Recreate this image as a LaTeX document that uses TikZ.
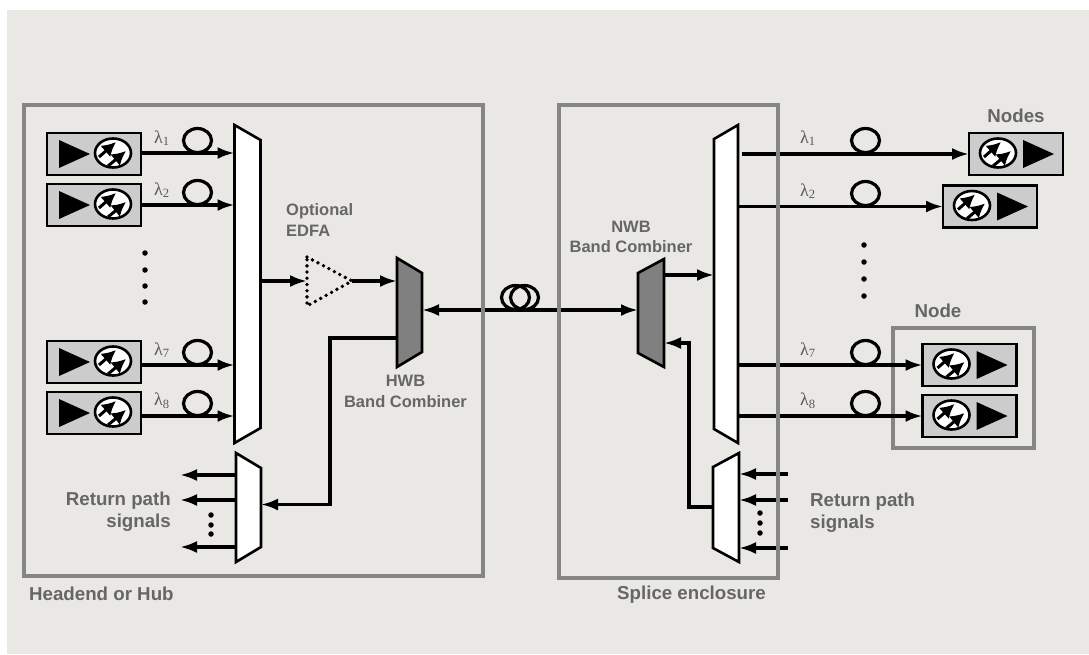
\documentclass[tikz,border=0pt]{standalone}
\usepackage{fontspec}
\setmainfont{Liberation Sans}
\newfontfamily\lamfont{Liberation Serif}
\usepackage{xcolor}
\usetikzlibrary{arrows.meta}
\usetikzlibrary{positioning, calc}
\definecolor{panelcol}{HTML}{E9E8E4}
\definecolor{framecol}{HTML}{858585}
\definecolor{boxcol}{HTML}{CCCCCC}
\definecolor{combcol}{HTML}{808080}
\definecolor{labelcol}{HTML}{666666}
\tikzset{
  x=1pt, y=-1pt,
  frame/.style={draw=framecol, line width=3.2pt, inner sep=0pt, outer sep=0pt},
  unitbox/.style={draw=black, fill=boxcol, line width=2.6pt, minimum width=94pt, minimum height=42pt, inner sep=0pt, outer sep=0pt},
  mux/.style={inner sep=0pt, outer sep=0pt},
  muxline/.style={draw=black, line width=2.6pt, line join=miter},
  fiberloop/.style={draw=black, line width=3.2pt, inner sep=0pt, outer sep=0pt},
  sig/.style={line width=3.2pt, -{Latex[length=17pt,width=12pt]}},
  smalldot/.style={circle, fill=black, minimum width=5.5pt, inner sep=0pt},
  lbl/.style={text=labelcol, font=\fontsize{16.5}{20.5}\selectfont\bfseries, inner sep=0pt},
  biglbl/.style={text=labelcol, font=\fontsize{18.7}{22}\selectfont\bfseries, inner sep=0pt},
  lam/.style={text=black!65, font=\fontsize{18}{20}\selectfont\lamfont, inner sep=0pt},
}
% icon inside a box
\newcommand{\photo}[2]{
  \begin{scope}[shift={($(#1)+(#2,-1)$)}]
    \draw[fill=white, line width=2.6pt] (0,0) ellipse (18pt and 14.5pt);
    \draw[line width=3pt, -{Latex[length=14pt,width=15pt]}] (-14,4) -- (3,-11);
    \draw[line width=3pt, -{Latex[length=14pt,width=15pt]}] (-5,13) -- (13,-2);
  \end{scope}
}
\newcommand{\amptri}[3]{
  \fill ($(#1)+(#2,-14)$) -- ($(#1)+(#3,0)$) -- ($(#1)+(#2,14)$) -- cycle;
}
% a fibre loop sitting on a line
\newcommand{\fibre}[2]{
  \draw[fiberloop] (#1,#2) ellipse (14pt and 12pt);
}
% slanted outlines on top of the mux nodes
\newcommand{\longleft}[2]{
  \draw[muxline, fill=#2] (#1.north west) -- ($(#1.north east)+(0,15)$) -- ($(#1.south east)+(0,-15)$) -- (#1.south west) -- cycle;
}
\newcommand{\longright}[2]{
  \draw[muxline, fill=#2] (#1.north east) -- ($(#1.north west)+(0,14)$) -- ($(#1.south west)+(0,-14)$) -- (#1.south east) -- cycle;
}
\begin{document}
\begin{tikzpicture}
    \useasboundingbox (0,0) rectangle (1089,654);
    \fill[panelcol] (7,10) rectangle (1089,654);

    % transmitters
    \node[unitbox] (tx1) at (94,154) {};
    \node[unitbox, below=9pt of tx1] (tx2) {};
    \node[unitbox] (tx7) at (94,362) {};
    \node[unitbox, below=9pt of tx7] (tx8) {};
    \foreach \i in {1,2,7,8} {
        \amptri{tx\i}{-35}{-4}
        \photo{tx\i}{19}
    }

    % node box and receivers
    \node[frame, minimum width=141pt, minimum height=120pt] (nodebox) at (963.5,388) {};
    \node[unitbox] (rx1) at (1016,154) {};
    \node[unitbox] (rx2) at (990,206.5) {};
    \node[unitbox] (rx7) at (969.5,365) {};
    \node[unitbox, below=9pt of rx7] (rx8) {};
    \foreach \i in {1,2,7,8} {
        \photo{rx\i}{-18}
        \amptri{rx\i}{7}{38}
    }

    % multiplexers
    \node[mux, minimum width=26pt, minimum height=318pt] (muxa) at (247.5,284) {};
    \node[mux, minimum width=25pt, minimum height=109pt] (demuxa) at (248.5,507.5) {};
    \node[mux, minimum width=24pt, minimum height=318pt] (muxb) at (726,284) {};
    \node[mux, minimum width=26pt, minimum height=109pt] (muxc) at (726,507.5) {};
    \node[mux, minimum width=25pt, minimum height=109pt] (hwb) at (409.5,312.5) {};
    \node[mux, minimum width=26pt, minimum height=108pt] (nwb) at (651,313) {};
    \longleft{muxa}{white}
    \longleft{demuxa}{white}
    \longright{muxb}{white}
    \longright{muxc}{white}
    \longleft{hwb}{combcol}
    \longright{nwb}{combcol}

    % left side
    \foreach \i/\y in {1/153,2/205,7/365,8/416} {
        \fibre{197.5}{\y-12.5}
        \node[lam] (lamA\i) at (162,\y-15) {λ\textsubscript{\i}};
        \coordinate (ta\i) at (142,\y);
        \draw[sig] (ta\i) -- (ta\i -| muxa.west);
    }
    \node[smalldot] (da1) at (145,253) {};
    \node[smalldot] (da2) at (145,270) {};
    \node[smalldot] (da3) at (145,286) {};
    \node[smalldot] (da4) at (145,302) {};

    % optional amplifier
    \coordinate (ea) at (307,257);
    \coordinate (eb) at (352,281);
    \coordinate (ec) at (307,306);
    \draw[line width=3.8pt, line cap=round, dash pattern=on 0pt off 6.2pt] (ea) -- (eb) -- (ec) -- cycle;
    \draw[sig] (muxa.east |- eb) -- (ec |- eb);
    \draw[sig] (eb) -- (eb -| hwb.west);

    % trunk
    \coordinate (trunk) at (530,310);
    \draw[line width=3.2pt, {Latex[length=17pt,width=12pt]}-{Latex[length=17pt,width=12pt]}] (hwb.east |- trunk) -- (nwb.west |- trunk);
    \fibre{515.5}{297.5}
    \fibre{524.5}{297.5}

    % return path, left
    \coordinate (reta) at (330,338);
    \coordinate (retb) at (330,504.5);
    \draw[sig] (hwb.west |- reta) -- (reta) -- (retb) -- (retb -| demuxa.east);
    \foreach \i/\y in {1/475,2/500,3/547} {
        \coordinate (ra\i) at (180,\y);
        \draw[sig] (ra\i -| demuxa.west) -- (ra\i);
    }
    \node[smalldot] (db1) at (211,515) {};
    \node[smalldot] (db2) at (211,525) {};
    \node[smalldot] (db3) at (211,534) {};

    % right side
    \draw[sig, shorten <=4pt] (muxb.east |- rx1) -- (rx1.west);
    \draw[sig] (muxb.east |- rx2) -- (rx2.west);
    \draw[sig] (muxb.east |- rx7) -- (rx7.west);
    \draw[sig] (muxb.east |- rx8) -- (rx8.west);
    \foreach \i/\y in {1/153,2/206,7/365,8/416} {
        \fibre{865.5}{\y-12.5}
        \node[lam] (lamB\i) at (808,\y-15) {λ\textsubscript{\i}};
    }
    \node[smalldot] (dc1) at (864,245) {};
    \node[smalldot] (dc2) at (864,262) {};
    \node[smalldot] (dc3) at (864,279) {};
    \node[smalldot] (dc4) at (864,296) {};

    % band combiner to mux
    \coordinate (nw) at (700,275);
    \draw[sig] (nwb.east |- nw) -- (nw -| muxb.west);

    % return path, right
    \coordinate (rbot) at (689,507);
    \coordinate (rtop) at (689,343);
    \draw[sig] (muxc.west |- rbot) -- (rbot) -- (rtop) -- (rtop -| nwb.east);
    \foreach \i/\y in {1/474,2/500,3/548} {
        \coordinate (rb\i) at (788,\y);
        \draw[sig] (rb\i) -- (rb\i -| muxc.east);
    }
    \node[smalldot] (dd1) at (760,513) {};
    \node[smalldot] (dd2) at (760,523) {};
    \node[smalldot] (dd3) at (760,533) {};

    % enclosures
    \node[frame, minimum width=459pt, minimum height=471pt] (headend) at (253.5,340.5) {};
    \node[frame, minimum width=219pt, minimum height=473pt] (splice) at (668.5,341.5) {};

    % labels
    \node[lbl, align=left, anchor=west] (edfa) at (286,220) {Optional\\EDFA};
    \node[lbl, align=center] (hwbl) at (405.5,391.5) {HWB\\Band Combiner};
    \node[lbl, align=center] (nwbl) at (631,237) {NWB\\Band Combiner};
    \node[biglbl, align=right, anchor=east] (reta1) at (171,511.5) {Return path\\signals};
    \node[biglbl, align=left, anchor=west] (retb1) at (810,512.5) {Return path\\signals};
    \node[biglbl, anchor=west] (hub) at (29,594) {Headend or Hub};
    \node[biglbl, anchor=west] (enc) at (617,595) {Splice enclosure};
    \node[biglbl] (nodes) at (1016,116) {Nodes};
    \node[biglbl] (nodel) at (938,311) {Node};
\end{tikzpicture}
\end{document}
